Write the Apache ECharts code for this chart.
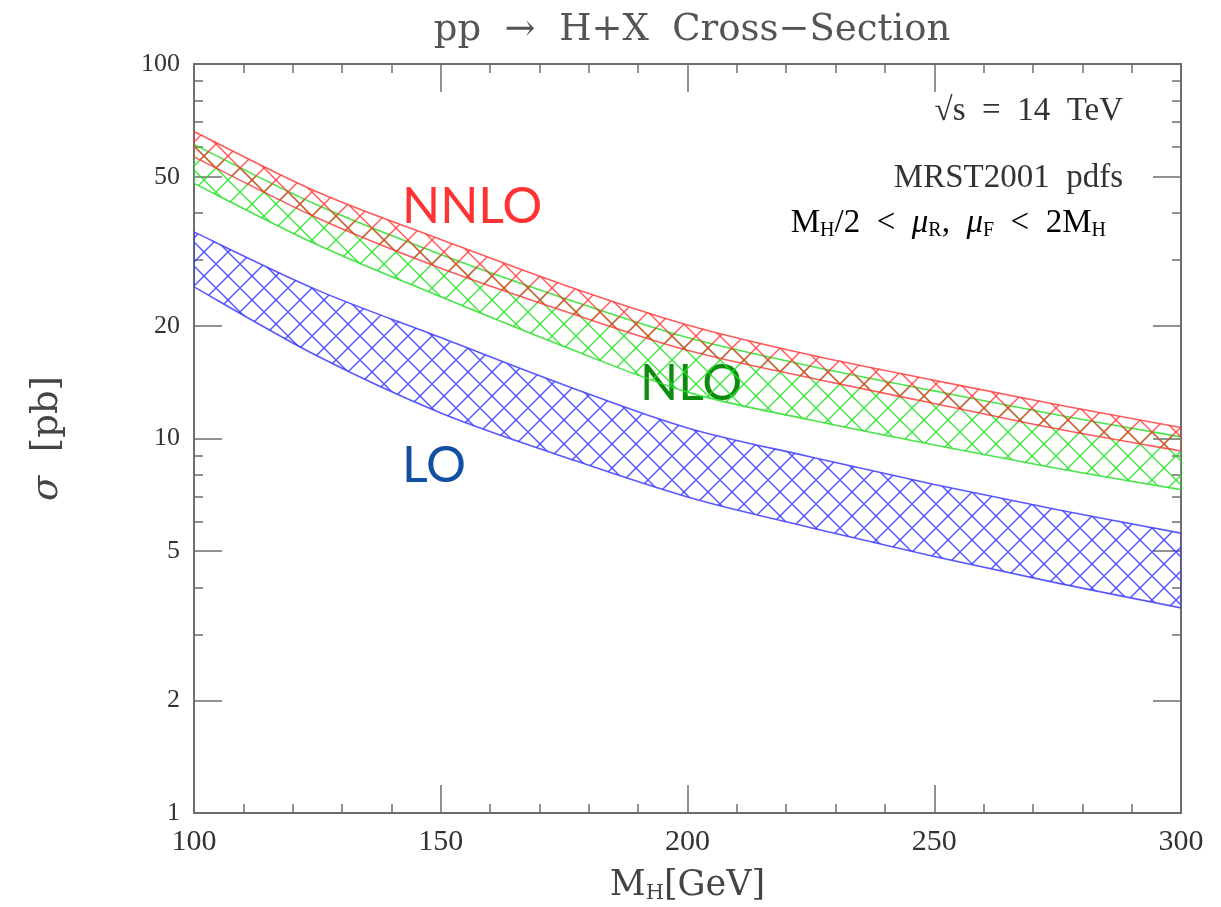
<!DOCTYPE html>
<html>
<head>
<meta charset="utf-8">
<script src="https://cdn.jsdelivr.net/npm/echarts@6/dist/echarts.min.js"></script>
<style>
  html, body { margin: 0; padding: 0; background: #ffffff; }
  #chart { width: 1221px; height: 907px; }
</style>
</head>
<body>
<div id="chart"></div>
<script>
// Higgs mass points (GeV)
const massGeV = [100, 125, 150, 175, 200, 225, 250, 275, 300];

// Cross-section bands (pb): upper / lower edge of the scale-variation band
const nnloHigh = [66.0, 45.5, 34.0, 25.7, 20.1, 16.7, 14.3, 12.3, 10.7];
const nnloLow  = [56.5, 38.8, 28.5, 21.9, 17.2, 14.5, 12.4, 10.6, 9.26];
const nloHigh  = [61.0, 42.0, 31.0, 23.7, 18.6, 15.6, 13.4, 11.55, 10.1];
const nloLow   = [48.0, 32.9, 23.9, 17.6, 13.3, 11.2, 9.61, 8.32, 7.3];
const loHigh   = [35.6, 24.9, 18.6, 13.9, 10.67, 8.93, 7.54, 6.45, 5.59];
const loLow    = [25.4, 16.6, 11.7, 8.93, 6.98, 5.78, 4.84, 4.11, 3.53];

// Tick values
const xMin = 100, xMax = 300, xStep = 50;
const yMajorTicks = [1, 2, 5, 10, 20, 50, 100];
const yMinorTicks = [3, 4, 6, 7, 8, 9, 30, 40, 60, 70, 80, 90];

const serif = '"Liberation Serif", "DejaVu Serif", serif';
const wideSerif = '"DejaVu Serif", "Liberation Serif", serif';
const frameColor = '#6e6e6e';
const textColor = '#333333';

// Cross-hatch tile used as the band fill
function hatch(color) {
  const w = 24, h = 24;
  const c = document.createElement('canvas');
  c.width = w; c.height = h;
  const g = c.getContext('2d');
  g.strokeStyle = color;
  g.lineWidth = 1.5;
  for (const dx of [-w, 0, w]) {
    g.beginPath(); g.moveTo(dx, 0); g.lineTo(dx + w, h); g.stroke();
    g.beginPath(); g.moveTo(dx + w, 0); g.lineTo(dx, h); g.stroke();
  }
  return { image: c, repeat: 'repeat' };
}

// Catmull-Rom curve through pixel points, as cubic Bezier path commands
function curveThrough(pts) {
  let d = '';
  for (let i = 0; i < pts.length - 1; i++) {
    const p0 = pts[Math.max(i - 1, 0)], p1 = pts[i], p2 = pts[i + 1];
    const p3 = pts[Math.min(i + 2, pts.length - 1)];
    const c1x = p1[0] + (p2[0] - p0[0]) / 6, c1y = p1[1] + (p2[1] - p0[1]) / 6;
    const c2x = p2[0] - (p3[0] - p1[0]) / 6, c2y = p2[1] - (p3[1] - p1[1]) / 6;
    d += ' C ' + c1x + ' ' + c1y + ' ' + c2x + ' ' + c2y + ' ' + p2[0] + ' ' + p2[1];
  }
  return d;
}

// One hatched band between low[] and high[], placed through the chart's axes
function band(name, low, high, color, z) {
  const fill = hatch(color);
  return {
    name: name, type: 'custom', z: z, silent: true, clip: true,
    data: massGeV.map((m, i) => [m, low[i], high[i]]),
    encode: { x: 0, y: [1, 2] },
    renderItem: function (params, api) {
      if (params.dataIndex !== 0) return { type: 'group', children: [] };
      const upper = massGeV.map((m, i) => api.coord([m, high[i]]));
      const lower = massGeV.map((m, i) => api.coord([m, low[i]])).reverse();
      const d = 'M ' + upper[0][0] + ' ' + upper[0][1] + curveThrough(upper) +
                ' L ' + lower[0][0] + ' ' + lower[0][1] + curveThrough(lower) + ' Z';
      return {
        type: 'path',
        shape: { pathData: d },
        style: { fill: fill, stroke: color, lineWidth: 1.6 }
      };
    }
  };
}

function yAxisPair(position) {
  const base = {
    type: 'log', logBase: 10, min: 1, max: 100, position: position,
    splitLine: { show: false }, minorTick: { show: false }
  };
  return [
    Object.assign({}, base, {
      axisLine: { show: true, lineStyle: { color: frameColor, width: 2 } },
      axisTick: { show: true, inside: true, length: 28, customValues: yMajorTicks,
                  lineStyle: { color: frameColor, width: 1.5 } },
      axisLabel: position === 'left'
        ? { show: true, customValues: yMajorTicks, margin: 14, fontFamily: serif,
            fontSize: 26, color: textColor }
        : { show: false },
      name: position === 'left' ? '{s|σ}{t|  [pb]}' : '',
      nameLocation: 'middle', nameGap: 128, nameRotate: 90,
      nameTextStyle: {
        rich: {
          s: { fontFamily: wideSerif, fontSize: 37, fontStyle: 'italic', color: '#444' },
          t: { fontFamily: wideSerif, fontSize: 37, color: '#444' }
        }
      }
    }),
    Object.assign({}, base, {
      axisLine: { show: false },
      axisTick: { show: true, inside: true, length: 9, customValues: yMinorTicks,
                  lineStyle: { color: frameColor, width: 1.5 } },
      axisLabel: { show: false }
    })
  ];
}

function xAxisOf(position) {
  return {
    type: 'value', min: xMin, max: xMax, interval: xStep, position: position,
    splitLine: { show: false },
    axisLine: { show: true, lineStyle: { color: frameColor, width: 2 } },
    axisTick: { show: true, inside: true, length: 28, lineStyle: { color: frameColor, width: 1.5 } },
    minorTick: { show: true, splitNumber: 5, length: 9, lineStyle: { color: frameColor, width: 1.5 } },
    axisLabel: position === 'bottom'
      ? { show: true, margin: 14, fontFamily: serif, fontSize: 30, color: textColor }
      : { show: false },
    name: position === 'bottom' ? '{a|M}{b|H}{a|[GeV]}' : '',
    nameLocation: 'middle', nameGap: 54,
    nameTextStyle: {
      rich: {
        a: { fontFamily: wideSerif, fontSize: 35, color: '#444' },
        b: { fontFamily: wideSerif, fontSize: 21, color: '#444', verticalAlign: 'bottom', padding: [16, 0, 0, 0] }
      }
    }
  };
}

const chart = echarts.init(document.getElementById('chart'), null, { renderer: 'canvas' });

const subRich = {
  t: { fontFamily: serif, fontSize: 33, color: textColor },
  s: { fontFamily: serif, fontSize: 20, color: textColor, padding: [15, 0, 0, 0] },
  m: { fontFamily: serif, fontSize: 33, fontStyle: 'italic', color: textColor }
};

chart.setOption({
  animation: false,
  backgroundColor: '#ffffff',
  title: {
    text: 'pp  →  H+X  Cross−Section',
    left: 687, top: 7, textAlign: 'center',
    textStyle: { fontFamily: wideSerif, fontSize: 37, fontWeight: 'normal', color: '#555' }
  },
  grid: { left: 194, top: 64, right: 40, bottom: 94, containLabel: false, outerBoundsMode: 'none' },
  xAxis: [xAxisOf('bottom'), xAxisOf('top')],
  yAxis: yAxisPair('left').concat(yAxisPair('right')),
  series: [
    band('LO', loLow, loHigh, 'rgba(60,60,255,0.85)', 2),
    band('NLO', nloLow, nloHigh, 'rgba(40,225,40,0.85)', 3),
    band('NNLO', nnloLow, nnloHigh, 'rgba(255,50,50,0.8)', 4)
  ],
  graphic: [
    { type: 'text', right: 1221 - 1123, top: 95,
      style: { text: '√s  =  14  TeV', font: '33px ' + serif, fill: textColor } },
    { type: 'text', right: 1221 - 1123, top: 162,
      style: { text: 'MRST2001  pdfs', font: '33px ' + serif, fill: textColor } },
    { type: 'text', right: 1221 - 1106, top: 207,
      style: { text: '{t|M}{s|H}{t|/2  <  }{m|μ}{s|R}{t|,  }{m|μ}{s|F}{t|  <  2M}{s|H}', rich: subRich } },
    { type: 'text', left: 402, top: 182,
      style: { text: 'NNLO', font: '50px Lato, "Open Sans", sans-serif', fill: '#ff3333' } },
    { type: 'text', left: 640, top: 359,
      style: { text: 'NLO', font: '50px Lato, "Open Sans", sans-serif', fill: '#0c8c0c' } },
    { type: 'text', left: 402, top: 441,
      style: { text: 'LO', font: '50px Lato, "Open Sans", sans-serif', fill: '#134fa3' } }
  ]
});
</script>
</body>
</html>
